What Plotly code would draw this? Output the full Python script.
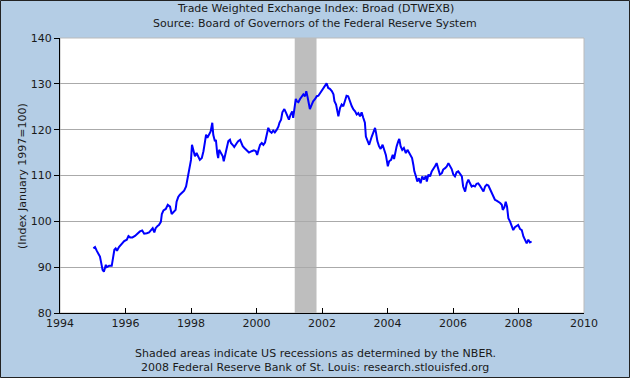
import plotly.graph_objects as go

# ---- data ----
years = [
    1995.02, 1995.07, 1995.12, 1995.17, 1995.22, 1995.27, 1995.30, 1995.34, 1995.40, 1995.43,
    1995.50, 1995.58, 1995.63, 1995.66, 1995.70, 1995.74, 1995.80, 1995.86, 1995.90, 1995.96,
    1996.04, 1996.09, 1996.14, 1996.21, 1996.29, 1996.37, 1996.44, 1996.51, 1996.57, 1996.65,
    1996.72, 1996.78, 1996.83, 1996.88, 1996.92, 1996.98, 1997.02, 1997.08, 1997.11, 1997.16,
    1997.23, 1997.29, 1997.36, 1997.41, 1997.46, 1997.53, 1997.56, 1997.61, 1997.66, 1997.72,
    1997.79, 1997.85, 1997.92, 1997.95, 1998.00, 1998.03, 1998.07, 1998.12, 1998.17, 1998.22,
    1998.27, 1998.33, 1998.38, 1998.43, 1998.46, 1998.50, 1998.56, 1998.60, 1998.65, 1998.68,
    1998.73, 1998.76, 1998.80, 1998.83, 1998.86, 1998.91, 1998.97, 1999.00, 1999.04, 1999.09,
    1999.14, 1999.19, 1999.22, 1999.27, 1999.32, 1999.40, 1999.44, 1999.50, 1999.53, 1999.58,
    1999.63, 1999.70, 1999.77, 1999.85, 1999.92, 1999.98, 2000.02, 2000.07, 2000.11, 2000.16,
    2000.21, 2000.26, 2000.31, 2000.36, 2000.41, 2000.46, 2000.51, 2000.56, 2000.62, 2000.67,
    2000.70, 2000.75, 2000.79, 2000.85, 2000.90, 2000.95, 2000.99, 2001.04, 2001.09, 2001.12,
    2001.15, 2001.20, 2001.23, 2001.28, 2001.33, 2001.38, 2001.43, 2001.48, 2001.52, 2001.56,
    2001.60, 2001.63, 2001.69, 2001.73, 2001.79, 2001.84, 2001.89, 2001.94, 2001.99, 2002.04,
    2002.09, 2002.14, 2002.19, 2002.24, 2002.30, 2002.35, 2002.38, 2002.43, 2002.47, 2002.50,
    2002.55, 2002.60, 2002.65, 2002.70, 2002.75, 2002.80, 2002.85, 2002.91, 2002.96, 2003.01,
    2003.06, 2003.11, 2003.16, 2003.21, 2003.26, 2003.31, 2003.34, 2003.40, 2003.44, 2003.52,
    2003.57, 2003.62, 2003.65, 2003.69, 2003.74, 2003.79, 2003.85, 2003.90, 2003.95, 2004.01,
    2004.05, 2004.11, 2004.16, 2004.20, 2004.24, 2004.28, 2004.33, 2004.36, 2004.40, 2004.45,
    2004.50, 2004.56, 2004.61, 2004.66, 2004.71, 2004.75, 2004.79, 2004.82, 2004.87, 2004.91,
    2004.96, 2005.01, 2005.06, 2005.11, 2005.17, 2005.20, 2005.25, 2005.30, 2005.35, 2005.40,
    2005.45, 2005.50, 2005.55, 2005.60, 2005.66, 2005.70, 2005.76, 2005.81, 2005.86, 2005.91,
    2005.96, 2006.01, 2006.06, 2006.11, 2006.16, 2006.21, 2006.27, 2006.31, 2006.37, 2006.42,
    2006.47, 2006.52, 2006.57, 2006.62, 2006.67, 2006.72, 2006.77, 2006.82, 2006.88, 2006.93,
    2006.98, 2007.03, 2007.08, 2007.13, 2007.18, 2007.23, 2007.28, 2007.33, 2007.38, 2007.44,
    2007.49, 2007.52, 2007.57, 2007.61, 2007.65, 2007.69, 2007.74, 2007.79, 2007.84, 2007.89,
    2007.94, 2007.99, 2008.05, 2008.10, 2008.15, 2008.20, 2008.25, 2008.30, 2008.35, 2008.40,
]
index_values = [
    94.1, 94.4, 93.6, 92.9, 92.3, 90.5, 89.4, 89.0, 90.5, 90.0,
    90.3, 90.3, 93.0, 93.8, 94.1, 93.6, 94.4, 94.9, 95.2, 95.7,
    96.0, 96.8, 96.5, 96.5, 96.8, 97.4, 97.8, 98.0, 97.3, 97.4,
    97.6, 98.1, 98.5, 97.6, 98.5, 99.0, 99.2, 99.9, 101.6, 102.4,
    102.7, 103.6, 103.2, 101.6, 101.9, 102.5, 104.3, 105.3, 105.8, 106.2,
    106.7, 107.6, 110.2, 112.0, 113.4, 116.7, 115.6, 114.2, 114.9, 114.2,
    113.4, 113.8, 115.3, 117.5, 118.9, 118.2, 119.3, 119.6, 121.5, 118.9,
    117.5, 117.8, 114.9, 113.8, 115.6, 115.0, 114.2, 113.1, 114.5, 116.0,
    117.5, 117.8, 117.1, 116.7, 116.2, 117.1, 117.5, 117.8, 117.1, 116.4,
    116.0, 115.5, 115.0, 115.3, 115.5, 115.3, 114.5, 115.8, 116.7, 117.1,
    116.7, 117.2, 118.5, 120.4, 119.6, 119.3, 119.8, 119.4, 120.0, 120.7,
    121.5, 122.2, 123.8, 124.5, 123.7, 122.6, 122.2, 123.3, 124.0, 122.6,
    124.4, 126.7, 126.2, 126.0, 126.7, 127.1, 127.7, 127.3, 128.4, 127.1,
    125.5, 124.5, 125.5, 126.2, 126.7, 127.3, 127.4, 128.0, 128.4, 129.1,
    129.8, 130.1, 129.1, 128.9, 128.4, 127.7, 126.2, 125.5, 124.0, 122.9,
    124.7, 125.5, 125.1, 126.2, 127.4, 127.3, 126.2, 125.1, 124.4, 124.0,
    123.3, 123.6, 122.9, 123.8, 122.6, 121.5, 118.5, 117.1, 116.7, 118.5,
    119.6, 120.4, 119.3, 117.5, 116.4, 115.8, 116.7, 115.6, 114.5, 112.0,
    113.1, 113.4, 114.5, 113.6, 115.3, 116.4, 117.5, 118.0, 116.4, 115.6,
    116.0, 114.9, 115.6, 115.0, 114.2, 113.8, 112.3, 110.9, 109.8, 108.7,
    109.4, 108.3, 109.8, 109.1, 109.9, 108.7, 110.2, 109.8, 110.9, 111.4,
    112.0, 112.7, 111.6, 110.2, 110.5, 111.3, 111.6, 112.0, 112.7, 112.0,
    111.4, 110.2, 109.8, 110.7, 110.9, 110.4, 109.8, 107.6, 106.5, 108.3,
    109.1, 108.3, 107.6, 107.8, 107.6, 108.2, 108.3, 107.8, 107.2, 106.5,
    107.6, 108.0, 107.8, 107.0, 106.2, 105.8, 104.7, 104.5, 104.3, 104.0,
    103.6, 102.5, 103.1, 104.3, 103.2, 100.7, 100.0, 99.2, 98.1, 98.7,
    98.9, 99.2, 98.3, 98.1, 96.7, 95.8, 95.2, 96.0, 95.4, 95.6,
]
recession_start = [2001.167]
recession_end = [2001.833]
x_ticks = [1994, 1996, 1998, 2000, 2002, 2004, 2006, 2008, 2010]
y_ticks = [80, 90, 100, 110, 120, 130, 140]

title_lines = ["Trade Weighted Exchange Index: Broad (DTWEXB)",
               "Source: Board of Governors of the Federal Reserve System"]
note_lines = ["Shaded areas indicate US recessions as determined by the NBER.",
              "2008 Federal Reserve Bank of St. Louis: research.stlouisfed.org"]
y_title = "(Index January 1997=100)"

FONT = "DejaVu Sans, Verdana, sans-serif"
TXT = "#1a1a1a"

L, R, T, B = 60, 46, 38, 65
W, H = 630, 378
pw, ph = W - L - R, H - T - B

fig = go.Figure()
fig.add_trace(go.Scatter(
    x=years, y=index_values, mode="lines",
    line=dict(color="#0000FF", width=2),
    showlegend=False, hoverinfo="x+y",
))

for s, e in zip(recession_start, recession_end):
    fig.add_shape(type="rect", xref="x", yref="paper", x0=s, x1=e, y0=0, y1=1,
                  fillcolor="#BEBEBE", line=dict(width=0), layer="below")

# light frame round the plot area
fig.add_shape(type="rect", xref="paper", yref="paper", x0=0, x1=1, y0=0, y1=1,
              line=dict(color="#BBBBBB", width=1), fillcolor="rgba(0,0,0,0)", layer="below")
# outer image border
fig.add_shape(type="rect", xref="paper", yref="paper",
              x0=-(L - 0.5) / pw, x1=1 + (R - 0.5) / pw,
              y0=-(B - 0.5) / ph, y1=1 + (T - 0.5) / ph,
              line=dict(color="#222222", width=1), fillcolor="rgba(0,0,0,0)")

cx = (W / 2 - L) / pw
def ypx(py):
    return (H - B - py) / ph

ann = []
for txt, py in zip(title_lines, [9, 24]):
    ann.append(dict(text=txt, xref="paper", yref="paper", x=cx, y=ypx(py), showarrow=False,
                    xanchor="center", yanchor="middle", font=dict(size=11)))
for txt, py in zip(note_lines, [353, 367]):
    ann.append(dict(text=txt, xref="paper", yref="paper", x=cx, y=ypx(py), showarrow=False,
                    xanchor="center", yanchor="middle", font=dict(size=11)))
ann.append(dict(text=y_title, xref="paper", yref="paper",
                x=(22 - L) / pw, y=ypx(176), showarrow=False, textangle=-90,
                xanchor="center", yanchor="middle", font=dict(size=11)))

fig.update_layout(
    width=W, height=H,
    margin=dict(l=L, r=R, t=T, b=B),
    paper_bgcolor="#B4CDE5",
    plot_bgcolor="#FFFFFF",
    font=dict(family=FONT, size=11, color=TXT),
    annotations=ann,
)

fig.update_xaxes(
    range=[1994, 2010], tickvals=x_ticks, ticktext=[str(t) for t in x_ticks],
    showgrid=False, zeroline=False,
    showline=True, linecolor="#000000", linewidth=1,
    ticks="inside", ticklen=5, tickcolor="#000000",
    tickfont=dict(size=11, color=TXT),
)
fig.update_yaxes(
    range=[80, 140], tickvals=y_ticks, ticktext=[str(t) for t in y_ticks],
    showgrid=True, gridcolor="#AAAAAA", gridwidth=1, zeroline=False,
    showline=True, linecolor="#000000", linewidth=1,
    ticks="outside", ticklen=5, tickcolor="#000000",
    tickfont=dict(size=11, color=TXT),
)

fig.write_html("out.html", config={"displayModeBar": False},
               post_script="document.body.style.margin='0';document.body.style.padding='0';document.body.style.overflow='hidden';")
